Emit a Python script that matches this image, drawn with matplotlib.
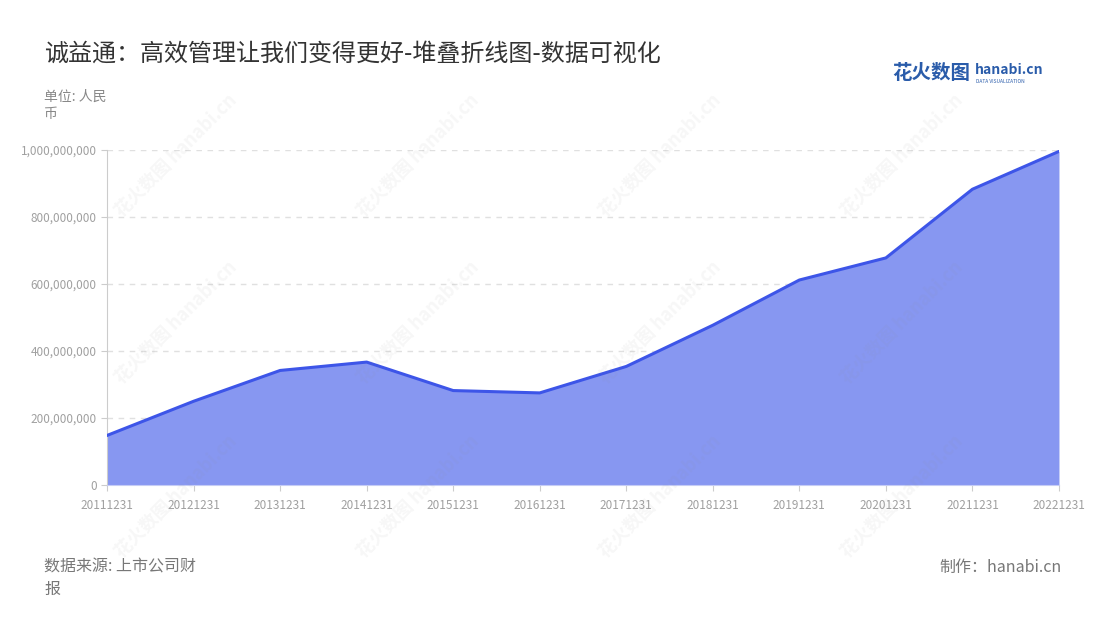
import matplotlib
matplotlib.use("Agg")
import matplotlib.pyplot as plt
from matplotlib.ticker import FuncFormatter

plt.rcParams['font.family'] = ['Noto Sans CJK SC', 'DejaVu Sans']

dates = ['20111231', '20121231', '20131231', '20141231', '20151231', '20161231',
         '20171231', '20181231', '20191231', '20201231', '20211231', '20221231']
values = [148e6, 250e6, 342e6, 367e6, 282e6, 275e6,
          354e6, 477e6, 612e6, 678e6, 883e6, 996e6]
y_ticks = [0, 2e8, 4e8, 6e8, 8e8, 1e9]

fig = plt.figure(figsize=(11, 6.2), dpi=100)
ax = fig.add_axes([0.0973, 0.2177, 0.8654, 0.5403])

# faint watermarks
for wx in [0.16, 0.38, 0.60, 0.82]:
    for wy in [0.75, 0.48, 0.20]:
        fig.text(wx, wy, '花火数图 hanabi.cn', rotation=45, fontsize=13,
                 color='#888888', alpha=0.07, ha='center', va='center',
                 fontweight='bold', zorder=5)

x = list(range(len(dates)))
ax.fill_between(x, values, 0, color='#8797f1', linewidth=0, zorder=2)
ax.plot(x, values, color='#3d55e8', linewidth=2.2, zorder=3)

ax.set_xlim(0, len(dates) - 1)
ax.set_ylim(0, 1e9)
ax.set_xticks(x)
ax.set_xticklabels(dates)
ax.set_yticks(y_ticks)
ax.yaxis.set_major_formatter(FuncFormatter(lambda v, p: f'{int(v):,}'))

ax.grid(axis='y', color='#e0e0e0', linestyle=(0, (4, 4)), linewidth=1)
ax.set_axisbelow(True)
ax.patch.set_alpha(0)
for s in ['top', 'right']:
    ax.spines[s].set_visible(False)
ax.spines['left'].set_color('#cccccc')
ax.spines['bottom'].set_color('#c5ccf5')
ax.tick_params(axis='both', colors='#cccccc', labelcolor='#a0a0a0', labelsize=8.5, length=4)
ax.tick_params(axis='x', pad=6)

fig.text(0.04, 0.913, '诚益通：高效管理让我们变得更好-堆叠折线图-数据可视化',
         fontsize=17.3, color='#333333', va='center')
fig.text(0.04, 0.83, '单位: 人民\n币', fontsize=10, color='#888888', va='center',
         linespacing=1.3)

fig.text(0.811, 0.882, '花火数图', fontsize=14, color='#2a5caa', fontweight='bold',
         va='center')
fig.text(0.886, 0.887, 'hanabi.cn', fontsize=10, color='#2a5caa', fontweight='bold',
         va='center')
fig.text(0.887, 0.868, 'DATA VISUALIZATION', fontsize=3.5, color='#2a5caa', va='center')

fig.text(0.04, 0.068, '数据来源: 上市公司财\n报', fontsize=11.5, color='#777777',
         va='center', linespacing=1.4)
fig.text(0.965, 0.085, '制作：hanabi.cn', fontsize=11.5, color='#777777',
         va='center', ha='right')

fig.savefig('out.png', dpi=100)
